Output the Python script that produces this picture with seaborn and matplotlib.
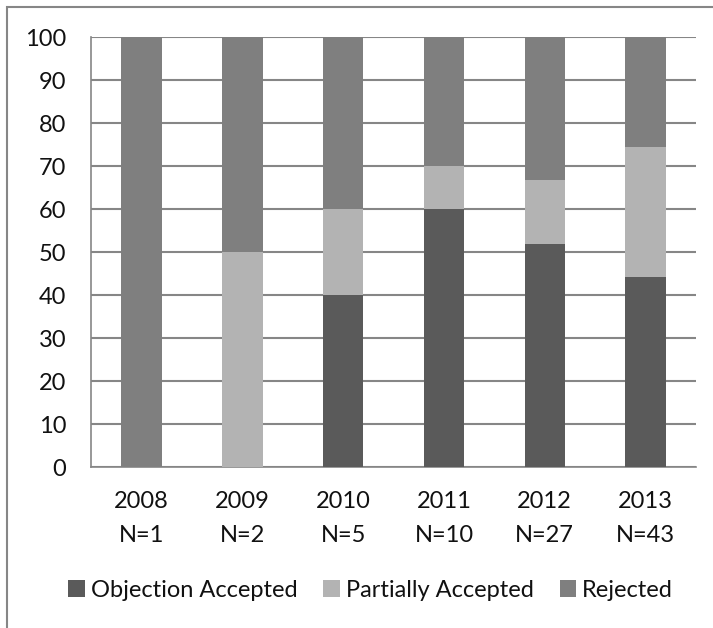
import numpy as np
import pandas as pd
import matplotlib.pyplot as plt
import seaborn as sns
from matplotlib.patches import Rectangle

sns.set_style("white")
plt.rcParams['font.family'] = ['Lato', 'DejaVu Sans']

years = ['2008', '2009', '2010', '2011', '2012', '2013']
counts = [1, 2, 5, 10, 27, 43]
accepted = [0, 0, 40, 60, 51.9, 44.2]
partial = [0, 50, 20, 10, 14.8, 30.2]
rejected = [100, 50, 40, 30, 33.3, 25.6]

labels = [f"{y}\nN={n}" for y, n in zip(years, counts)]
df = pd.DataFrame({'label': labels, 'acc': accepted, 'part': partial, 'rej': rejected})
df['top'] = df['acc'] + df['part'] + df['rej']
df['mid'] = df['acc'] + df['part']

c_acc, c_part, c_rej = '#5a5a5a', '#b3b3b3', '#7f7f7f'
fs = 17

fig = plt.figure(figsize=(7.13, 6.28), dpi=100)
ax = fig.add_axes([0.128, 0.256, 0.848, 0.685])

sns.barplot(data=df, x='label', y='top', color=c_rej, width=0.4, saturation=1, ax=ax,
            label='Rejected', zorder=3, linewidth=0)
sns.barplot(data=df, x='label', y='mid', color=c_part, width=0.4, saturation=1, ax=ax,
            label='Partially Accepted', zorder=3, linewidth=0)
sns.barplot(data=df, x='label', y='acc', color=c_acc, width=0.4, saturation=1, ax=ax,
            label='Objection Accepted', zorder=3, linewidth=0)

ax.set_ylim(0, 100)
ax.set_xlim(-0.5, 5.5)
ax.set_yticks(np.arange(0, 101, 10))
ax.yaxis.grid(True, color='#868686', linewidth=1.5, zorder=0)
ax.set_axisbelow(True)
ax.set_xlabel('')
ax.set_ylabel('')
for s in ['top', 'right']:
    ax.spines[s].set_visible(False)
for s in ['left', 'bottom']:
    ax.spines[s].set_color('#868686')
    ax.spines[s].set_linewidth(1.2)

ax.set_xticks(np.arange(-0.5, 6, 1), minor=True)
ax.tick_params(axis='x', which='major', length=0, pad=17, labelsize=fs, colors='#111111')
ax.tick_params(axis='x', which='minor', length=6, color='#868686', width=1.2)
ax.tick_params(axis='y', length=6, color='#868686', width=1.2, labelsize=fs, colors='#111111', pad=12)
for t in ax.get_xticklabels():
    t.set_linespacing(1.8)

handles, lbls = ax.get_legend_handles_labels()
order = [lbls.index('Objection Accepted'), lbls.index('Partially Accepted'), lbls.index('Rejected')]
leg = ax.legend([handles[i] for i in order], [lbls[i] for i in order],
                loc='center', bbox_to_anchor=(0.52, 0.06), bbox_transform=fig.transFigure,
                ncol=3, frameon=False, fontsize=fs, handlelength=0.7, handleheight=0.7,
                handletextpad=0.25, columnspacing=1.1)
for t in leg.get_texts():
    t.set_color('#111111')

fig.patches.append(Rectangle((7 / 713, -0.1), 1.2, 1 - 7 / 628 + 0.1, transform=fig.transFigure,
                             fill=False, edgecolor='#868686', linewidth=1.5))

fig.savefig('out.png', dpi=100)
